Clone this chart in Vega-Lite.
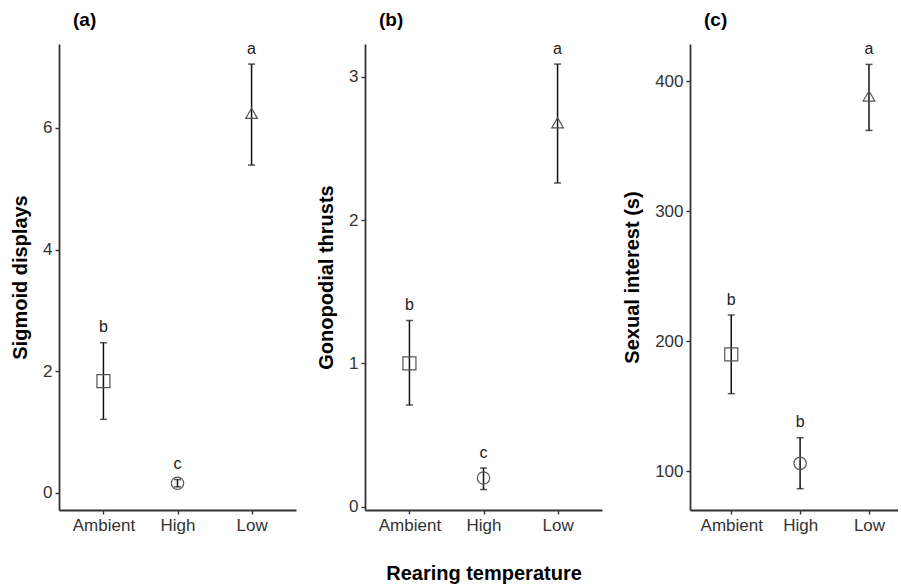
{
  "$schema": "https://vega.github.io/schema/vega-lite/v6.json",
  "padding": {"left": 10, "top": 10, "right": 0, "bottom": 5},
  "background": "white",
  "spacing": 20,
  "config": {
    "font": "Liberation Sans",
    "view": {"stroke": null},
    "title": {"fontSize": 19, "fontWeight": "bold", "color": "#000", "anchor": "start", "frame": "group", "dx": 14, "offset": 11},
    "axis": {
      "grid": false,
      "domainColor": "#333",
      "domainWidth": 1.8,
      "tickColor": "#333",
      "tickSize": 4,
      "tickWidth": 1.4,
      "labelFontSize": 17,
      "labelColor": "#333",
      "labelPadding": 3,
      "titleFontSize": 20,
      "titleFontWeight": "bold",
      "titleColor": "#000",
      "titlePadding": 12
    }
  },
  "hconcat": [
    {
      "width": 237,
      "height": 466,
      "title": "(a)",
      "data": {"values": [
        {"temp": "Ambient", "mean": 1.84, "lower": 1.21, "upper": 2.47, "letter": "b"},
        {"temp": "High", "mean": 0.16, "lower": 0.10, "upper": 0.22, "letter": "c"},
        {"temp": "Low", "mean": 6.24, "lower": 5.39, "upper": 7.05, "letter": "a"}
      ]},
      "encoding": {
        "x": {"field": "temp", "type": "nominal", "scale": {"type": "point", "padding": 0.6}, "axis": {"title": null, "labelAngle": 0}}
      },
      "layer": [
        {"mark": {"type": "rule", "color": "#111", "strokeWidth": 1.5},
         "encoding": {"y": {"field": "lower", "type": "quantitative", "scale": {"domain": [-0.28, 7.38], "nice": false, "zero": false}, "axis": {"title": "Sigmoid displays", "values": [0, 2, 4, 6], "format": "d"}}, "y2": {"field": "upper"}}},
        {"mark": {"type": "tick", "color": "#111", "thickness": 1.5, "size": 7},
         "encoding": {"y": {"field": "lower", "type": "quantitative"}}},
        {"mark": {"type": "tick", "color": "#111", "thickness": 1.5, "size": 7},
         "encoding": {"y": {"field": "upper", "type": "quantitative"}}},
        {"mark": {"type": "point", "filled": false, "color": "#555", "strokeWidth": 1.2, "opacity": 1},
         "encoding": {"y": {"field": "mean", "type": "quantitative"},
           "shape": {"field": "temp", "type": "nominal", "scale": {"domain": ["Ambient", "High", "Low"], "range": ["square", "circle", "triangle-up"]}, "legend": null},
           "size": {"field": "temp", "type": "nominal", "scale": {"domain": ["Ambient", "High", "Low"], "range": [169, 137, 260]}, "legend": null}}},
        {"mark": {"type": "text", "fontSize": 16, "color": "#222", "baseline": "middle", "dy": -15.5},
         "encoding": {"y": {"field": "upper", "type": "quantitative"}, "text": {"field": "letter"}}}
      ]
    },
    {
      "width": 237,
      "height": 466,
      "title": "(b)",
      "data": {"values": [
        {"temp": "Ambient", "mean": 1.0, "lower": 0.71, "upper": 1.30, "letter": "b"},
        {"temp": "High", "mean": 0.20, "lower": 0.12, "upper": 0.27, "letter": "c"},
        {"temp": "Low", "mean": 2.68, "lower": 2.26, "upper": 3.09, "letter": "a"}
      ]},
      "encoding": {
        "x": {"field": "temp", "type": "nominal", "scale": {"type": "point", "padding": 0.6}, "axis": {"title": "Rearing temperature", "labelAngle": 0, "titlePadding": 30}}
      },
      "layer": [
        {"mark": {"type": "rule", "color": "#111", "strokeWidth": 1.5},
         "encoding": {"y": {"field": "lower", "type": "quantitative", "scale": {"domain": [-0.023, 3.23], "nice": false, "zero": false}, "axis": {"title": "Gonopodial thrusts", "values": [0, 1, 2, 3], "format": "d"}}, "y2": {"field": "upper"}}},
        {"mark": {"type": "tick", "color": "#111", "thickness": 1.5, "size": 7},
         "encoding": {"y": {"field": "lower", "type": "quantitative"}}},
        {"mark": {"type": "tick", "color": "#111", "thickness": 1.5, "size": 7},
         "encoding": {"y": {"field": "upper", "type": "quantitative"}}},
        {"mark": {"type": "point", "filled": false, "color": "#555", "strokeWidth": 1.2, "opacity": 1},
         "encoding": {"y": {"field": "mean", "type": "quantitative"},
           "shape": {"field": "temp", "type": "nominal", "scale": {"domain": ["Ambient", "High", "Low"], "range": ["square", "circle", "triangle-up"]}, "legend": null},
           "size": {"field": "temp", "type": "nominal", "scale": {"domain": ["Ambient", "High", "Low"], "range": [169, 137, 260]}, "legend": null}}},
        {"mark": {"type": "text", "fontSize": 16, "color": "#222", "baseline": "middle", "dy": -15.5},
         "encoding": {"y": {"field": "upper", "type": "quantitative"}, "text": {"field": "letter"}}}
      ]
    },
    {
      "width": 208,
      "height": 466,
      "title": "(c)",
      "data": {"values": [
        {"temp": "Ambient", "mean": 189.8, "lower": 159.5, "upper": 220, "letter": "b"},
        {"temp": "High", "mean": 105.9, "lower": 86.4, "upper": 125.6, "letter": "b"},
        {"temp": "Low", "mean": 388.5, "lower": 362, "upper": 412.8, "letter": "a"}
      ]},
      "encoding": {
        "x": {"field": "temp", "type": "nominal", "scale": {"type": "point", "padding": 0.51, "align": 0.587}, "axis": {"title": null, "labelAngle": 0}}
      },
      "layer": [
        {"mark": {"type": "rule", "color": "#111", "strokeWidth": 1.5},
         "encoding": {"y": {"field": "lower", "type": "quantitative", "scale": {"domain": [70, 428.5], "nice": false, "zero": false}, "axis": {"title": "Sexual interest (s)", "values": [100, 200, 300, 400], "format": "d"}}, "y2": {"field": "upper"}}},
        {"mark": {"type": "tick", "color": "#111", "thickness": 1.5, "size": 7},
         "encoding": {"y": {"field": "lower", "type": "quantitative"}}},
        {"mark": {"type": "tick", "color": "#111", "thickness": 1.5, "size": 7},
         "encoding": {"y": {"field": "upper", "type": "quantitative"}}},
        {"mark": {"type": "point", "filled": false, "color": "#555", "strokeWidth": 1.2, "opacity": 1},
         "encoding": {"y": {"field": "mean", "type": "quantitative"},
           "shape": {"field": "temp", "type": "nominal", "scale": {"domain": ["Ambient", "High", "Low"], "range": ["square", "circle", "triangle-up"]}, "legend": null},
           "size": {"field": "temp", "type": "nominal", "scale": {"domain": ["Ambient", "High", "Low"], "range": [169, 137, 260]}, "legend": null}}},
        {"mark": {"type": "text", "fontSize": 16, "color": "#222", "baseline": "middle", "dy": -15.5},
         "encoding": {"y": {"field": "upper", "type": "quantitative"}, "text": {"field": "letter"}}}
      ]
    }
  ]
}
